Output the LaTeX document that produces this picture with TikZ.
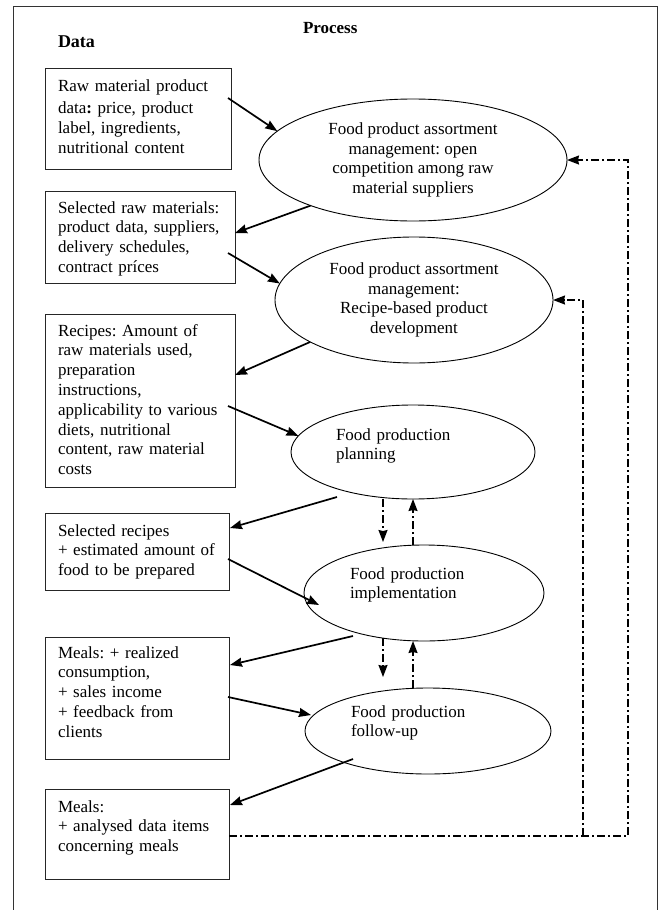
\documentclass[tikz,border=0pt]{standalone}
\usepackage{fontspec}
\setmainfont{Liberation Serif}
\usetikzlibrary{arrows.meta,calc,shapes.geometric}
\frenchspacing
\begin{document}
\begin{tikzpicture}[x=1pt,y=-1pt,
  every node/.style={inner sep=0pt, outer sep=0pt},
  lbl/.style={font=\frenchspacing\fontsize{17}{19.8}\selectfont, text width=180pt, align=left, anchor=base west},
  box/.style={draw=black!85, line width=0.9pt, anchor=north west},
  ell/.style={ellipse, draw=black, line width=0.9pt, font=\frenchspacing\fontsize{17}{19.5}\selectfont, align=center},
  arr/.style={line width=1.7pt, -{Stealth[length=12pt,width=9pt,inset=1pt]}},
  dd/.style={line width=1.4pt, dash pattern=on 8pt off 3pt on 2pt off 3pt, -{Stealth[length=12pt,width=9pt,inset=1pt]}},
  head/.style={font=\bfseries\fontsize{17}{20}\selectfont, anchor=base west}]
\useasboundingbox (0,0) rectangle (662,910);
% frame
\draw[line width=1pt, black!80] (13,910) -- (13,6) -- (657,6) -- (657,910);
% headings
\node[head, font=\bfseries\fontsize{18}{20}\selectfont] (data) at (58,47) {Data};
\node[head] (proc) at (303,33) {Process};
% data boxes
\node[box, minimum width=186pt, minimum height=101pt] (b1) at (45,68) {};
\node[box, minimum width=190pt, minimum height=92pt] (b2) at (45,191) {};
\node[box, minimum width=190pt, minimum height=173pt] (b3) at (45,314) {};
\node[box, minimum width=184pt, minimum height=77pt] (b4) at (45,513) {};
\node[box, minimum width=184pt, minimum height=122pt] (b5) at (45,637) {};
\node[box, minimum width=184pt, minimum height=90pt] (b6) at (45,789) {};
\node[lbl] (t1) at (58,91) {Raw material product\\[3pt] data\textbf{:} price, product\\ label, ingredients,\\ nutritional content};
\node[lbl] (t2) at (58,213) {Selected raw materials:\\ product data, suppliers,\\ delivery schedules,\\ contract príces};
\node[lbl] (t3) at (58,336) {Recipes: Amount of\\ raw materials used,\\ preparation\\ instructions,\\ applicability to various\\ diets, nutritional\\ content, raw material\\ costs};
\node[lbl] (t4) at (58,536) {Selected recipes\\ + estimated amount of\\ food to be prepared};
\node[lbl] (t5) at (58,658) {Meals: + realized\\ consumption,\\ + sales income\\ + feedback from\\ clients};
\node[lbl] (t6) at (58,812) {Meals:\\ + analysed data items\\ concerning meals};
% process ellipses
\node[ell, minimum width=308pt, minimum height=122pt] (e1) at (413,160) {Food product assortment\\ management: open\\ competition among raw\\ material suppliers};
\node[ell, minimum width=278pt, minimum height=126pt] (e2) at (414,300) {Food product assortment\\ management:\\ Recipe-based product\\ development};
\node[ell, minimum width=244pt, minimum height=94pt] (e3) at (413,452) {};
\node[ell, minimum width=240pt, minimum height=96pt] (e4) at (424,593) {};
\node[ell, minimum width=246pt, minimum height=86pt] (e5) at (428,731) {};
\node[lbl] (t7) at (336,440) {Food production\\ planning};
\node[lbl] (t8) at (350,579) {Food production\\ implementation};
\node[lbl] (t9) at (351,717) {Food production\\ follow-up};
% solid arrows
\draw[arr] ($(b1.north east)+(-3,30)$) -- (e1.168);
\draw[arr] (e1.204) -- ($(b2.north east)+(0,42)$);
\draw[arr] ($(b2.north east)+(-7,62)$) -- (e2.173);
\draw[arr] (e2.202) -- ($(b3.north east)+(0,61)$);
\draw[arr] ($(b3.north east)+(-7,92)$) -- (e3.172);
\draw[arr] ($(e3.south)+(-76,-2)$) -- ($(b4.north east)+(1,15)$);
\draw[arr] ($(b4.north east)+(-1,46)$) -- ($(e4.west)+(15,12)$);
\draw[arr] ($(e4.south)+(-71,-5)$) -- ($(b5.north east)+(1,28)$);
\draw[arr] ($(b5.north east)+(-1,60)$) -- ($(e5.west)+(6,-16)$);
\draw[arr] ($(e5.south)+(-75,-15)$) -- ($(b6.north east)+(1,16)$);
% dash-dot feedback
\draw[dd] ($(b6.north east)+(0,47)$) -- ($(b6.north east)+(399,47)$) |- (e1.east);
\draw[dd] ($(b6.north east)+(354,47)$) |- (e2.east);
\draw[dd] ($(e3.south)+(-30,0)$) -- ($(e4.north)+(-41,-3)$);
\draw[dd] ($(e4.north)+(-11,0)$) -- (e3.south);
\draw[dd] ($(e4.south)+(-41,-3)$) -- ($(e5.north)+(-45,-11)$);
\draw[dd] ($(e5.north)+(-15,0)$) -- ($(e4.south)+(-11,0)$);
\end{tikzpicture}
\end{document}
